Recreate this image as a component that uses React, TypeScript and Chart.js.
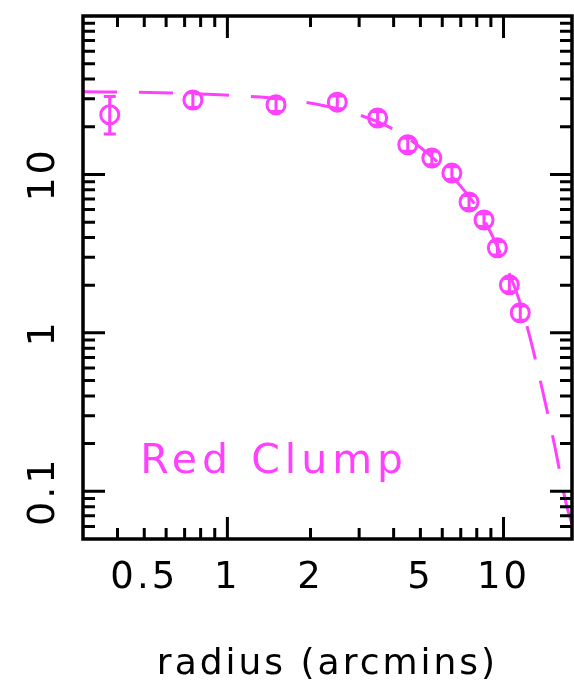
import React, { useEffect, useRef } from "react";
import { Chart, registerables } from "chart.js";

Chart.register(...registerables);

const MAGENTA = "#ff40ff";
const FONT = "'DejaVu Sans', sans-serif";

// Observed red clump radial profile (radius in arcmin)
const radius = [0.375, 0.75, 1.5, 2.5, 3.5, 4.5, 5.5, 6.5, 7.5, 8.5, 9.5, 10.5, 11.5];
const density = [23.8, 29.5, 27.5, 28.6, 22.7, 15.4, 12.7, 10.2, 6.7, 5.16, 3.44, 2.01, 1.34];
const errLow = [18.0, 26.5, 25.0, 26.0, 20.5, 14.0, 11.5, 9.3, 6.1, 4.7, 3.1, 1.82, 1.2];
const errHigh = [31.0, 32.8, 30.2, 31.3, 25.0, 16.9, 14.0, 11.2, 7.35, 5.65, 3.78, 2.2, 1.48];

// Model curve (dashed)
const modelRadius = [0.3, 0.52, 0.94, 1.68, 2.77, 4.03, 5.39, 6.93, 8.19, 10.1, 11.4, 12.4, 13.7, 15.3, 16.9, 17.7];
const modelDensity = [33.2, 32.9, 31.8, 29.5, 24.8, 19.1, 13.3, 8.59, 5.8, 2.76, 1.61, 0.97, 0.469, 0.196, 0.082, 0.062];

// Axes
const xLabelTicks = [0.5, 1, 2, 5, 10];
const yLabelTicks = [0.1, 1, 10];
const xMajor = [1, 10];
const xMinor = [0.4, 0.5, 0.6, 0.7, 0.8, 0.9, 2, 3, 4, 5, 6, 7, 8, 9];
const yMajor = [0.1, 1, 10];
const yMinor = [0.06, 0.07, 0.08, 0.09, 0.2, 0.3, 0.4, 0.5, 0.6, 0.7, 0.8, 0.9, 2, 3, 4, 5, 6, 7, 8, 9, 20, 30, 40, 50, 60, 70, 80, 90];

const LABEL_TEXT = "Red Clump";
const X_TITLE = "radius (arcmins)";

export default function App() {
  const ref = useRef<HTMLCanvasElement | null>(null);

  useEffect(() => {
    const canvas = ref.current;
    if (!canvas) return;

    const spacingPlugin = {
      id: "spacing",
      beforeUpdate(chart: any) { (chart.ctx as any).letterSpacing = "3px"; },
      beforeLayout(chart: any) { (chart.ctx as any).letterSpacing = "3px"; },
      beforeDraw(chart: any) { (chart.ctx as any).letterSpacing = "3px"; },
    };

    const errorBarPlugin = {
      id: "errorBars",
      afterDatasetsDraw(chart: any) {
        const { ctx, scales } = chart;
        const xs = scales.x, ys = scales.y;
        ctx.save();
        ctx.strokeStyle = MAGENTA;
        ctx.lineWidth = 3;
        ctx.beginPath();
        for (let i = 0; i < radius.length; i++) {
          const px = xs.getPixelForValue(radius[i]);
          const y1 = ys.getPixelForValue(errLow[i]);
          const y2 = ys.getPixelForValue(errHigh[i]);
          ctx.moveTo(px, y1); ctx.lineTo(px, y2);
          ctx.moveTo(px - 6, y1); ctx.lineTo(px + 6, y1);
          ctx.moveTo(px - 6, y2); ctx.lineTo(px + 6, y2);
        }
        ctx.stroke();
        ctx.restore();
      },
    };

    const framePlugin = {
      id: "frameTicks",
      afterDraw(chart: any) {
        const { ctx, chartArea: a, scales } = chart;
        const xs = scales.x, ys = scales.y;
        ctx.save();
        // label inside plot
        ctx.font = `41px ${FONT}`;
        (ctx as any).letterSpacing = "5px";
        ctx.fillStyle = MAGENTA;
        ctx.textBaseline = "alphabetic";
        ctx.textAlign = "left";
        ctx.fillText(LABEL_TEXT, a.left + 0.117 * (a.right - a.left), a.top + 0.874 * (a.bottom - a.top));

        ctx.strokeStyle = "#000";
        ctx.lineWidth = 3;
        ctx.lineCap = "butt";
        ctx.beginPath();
        const xt = (vals: number[], len: number) => {
          for (const v of vals) {
            const px = xs.getPixelForValue(v);
            ctx.moveTo(px, a.bottom); ctx.lineTo(px, a.bottom - len);
            ctx.moveTo(px, a.top); ctx.lineTo(px, a.top + len);
          }
        };
        const yt = (vals: number[], len: number) => {
          for (const v of vals) {
            const py = ys.getPixelForValue(v);
            ctx.moveTo(a.left, py); ctx.lineTo(a.left + len, py);
            ctx.moveTo(a.right, py); ctx.lineTo(a.right - len, py);
          }
        };
        xt(xMajor, 22); xt(xMinor, 11);
        yt(yMajor, 22); yt(yMinor, 12);
        ctx.stroke();
        ctx.lineWidth = 3.5;
        ctx.strokeRect(a.left, a.top, a.right - a.left, a.bottom - a.top);
        ctx.restore();
      },
    };

    Chart.defaults.font.family = FONT;

    const chart = new Chart(canvas, {
      type: "scatter",
      data: {
        datasets: [
          {
            type: "line",
            data: modelRadius.map((r, i) => ({ x: r, y: modelDensity[i] })),
            borderColor: MAGENTA,
            borderWidth: 3,
            borderDash: [34, 22],
            pointRadius: 0,
            fill: false,
            cubicInterpolationMode: "monotone",
          } as any,
          {
            data: radius.map((r, i) => ({ x: r, y: density[i] })),
            pointRadius: 9,
            pointBorderWidth: 3,
            borderColor: MAGENTA,
            backgroundColor: "rgba(0,0,0,0)",
            pointStyle: "circle",
          },
        ],
      },
      options: {
        responsive: false,
        animation: false,
        devicePixelRatio: 1,
        layout: { autoPadding: false, padding: { top: 16, right: 2, left: 0, bottom: 0 } },
        plugins: { legend: { display: false }, tooltip: { enabled: false } },
        scales: {
          x: {
            type: "logarithmic",
            position: "bottom",
            min: 0.3,
            max: 17.7,
            bounds: "data",
            afterBuildTicks: (s: any) => { s.ticks = xLabelTicks.map((v) => ({ value: v })); },
            afterFit: (s: any) => { s.height = 150; s.paddingLeft = 0; s.paddingRight = 0; },
            grid: { display: false, drawTicks: false },
            border: { display: false },
            ticks: {
              autoSkip: false,
              maxRotation: 0,
              minRotation: 0,
              padding: 17,
              color: "#000",
              font: { size: 37 },
              callback: (v: any) => String(v),
            },
            title: {
              display: true,
              text: X_TITLE,
              color: "#000",
              font: { size: 36 },
              padding: { top: 0, bottom: 3 },
            },
          },
          y: {
            type: "logarithmic",
            position: "left",
            min: 0.05,
            max: 100,
            bounds: "data",
            afterBuildTicks: (s: any) => { s.ticks = yLabelTicks.map((v) => ({ value: v })); },
            afterFit: (s: any) => { s.width = 83; s.paddingTop = 0; s.paddingBottom = 0; },
            grid: { display: false, drawTicks: false },
            border: { display: false },
            ticks: {
              autoSkip: false,
              minRotation: 90,
              maxRotation: 90,
              crossAlign: "center",
              padding: 4,
              color: "#000",
              font: { size: 38 },
              callback: (v: any) => String(v),
            },
          },
        },
      } as any,
      plugins: [spacingPlugin, errorBarPlugin, framePlugin],
    });

    return () => chart.destroy();
  }, []);

  return (
    <canvas
      ref={ref}
      width={574}
      height={689}
      style={{ position: "fixed", left: 0, top: 0, display: "block" }}
    />
  );
}
